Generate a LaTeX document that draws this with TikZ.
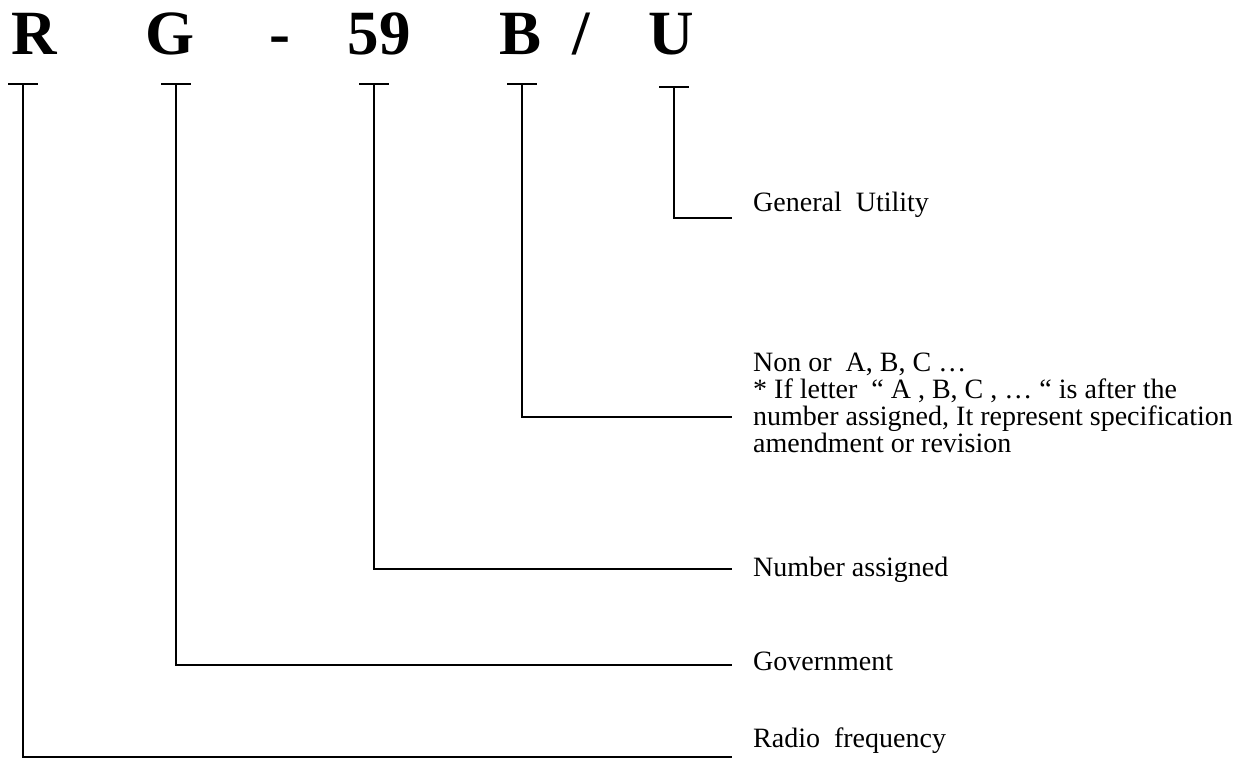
\documentclass[tikz,border=0pt]{standalone}
\usepackage{fontspec}
\setmainfont{Liberation Serif}
\begin{document}
\begin{tikzpicture}[x=1pt,y=1pt,
  big/.style={font=\fontsize{63}{63}\selectfont\bfseries, anchor=base, inner sep=0pt},
  lbl/.style={font=\fontsize{28}{28}\selectfont, anchor=base west, inner sep=0pt, align=left},
  conn/.style={line width=2.4pt, line cap=butt, line join=miter}]
\useasboundingbox (0,0) rectangle (1242,-760);
% big letters
\node[big] (R) at (34,-55) {R};
\node[big] (G) at (170,-55) {G};
\node[big] (D) at (280,-55) {-};
\node[big] (N) at (379,-55) {59};
\node[big] (B) at (521,-55) {B};
\node[big] (S) at (581,-55) {/};
\node[big] (U) at (671,-55) {U};
% tick tops
\coordinate (tR) at (23,-84);
\coordinate (tG) at (176,-84);
\coordinate (tN) at (374,-84);
\coordinate (tB) at (522,-84);
\coordinate (tU) at (674,-87);
% line ends
\coordinate (eU) at (732,-218);
\coordinate (eB) at (732,-417);
\coordinate (eN) at (732,-569);
\coordinate (eG) at (732,-665);
\coordinate (eR) at (732,-757);
% labels
\node[lbl] (lU) at (753,-211) {General\ \ Utility};
\node[lbl] (lB1) at (753,-371) {Non or\ \ A, B, C …};
\node[lbl] (lB2) at (753,-398) {* If letter\ \ “ A , B, C , … “ is after the};
\node[lbl] (lB3) at (753,-425) {number assigned, It represent specification};
\node[lbl] (lB4) at (753,-452) {amendment or revision};
\node[lbl] (lN) at (753,-576) {Number assigned};
\node[lbl] (lG) at (753,-670) {Government};
\node[lbl] (lR) at (753,-747) {Radio\ \ frequency};
% connectors
\foreach \t/\e in {tR/eR,tG/eG,tN/eN,tB/eB,tU/eU}{
  \draw[conn] ([xshift=-15pt]\t) -- ([xshift=15pt]\t);
  \draw[conn] (\t) |- (\e);
}
\end{tikzpicture}
\end{document}
